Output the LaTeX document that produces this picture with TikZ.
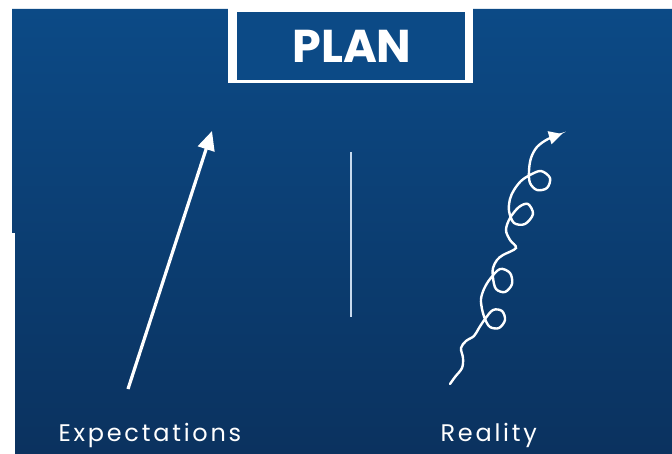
\documentclass[tikz,border=0pt]{standalone}
\usepackage{fontspec}
\setmainfont{Poppins}
\usetikzlibrary{arrows.meta}

\definecolor{bgtop}{RGB}{12,74,134}
\definecolor{bgbot}{RGB}{11,50,95}
\definecolor{divline}{RGB}{200,218,238}

\begin{document}
\begin{tikzpicture}[x=1pt,y=-1pt,
    arr/.style={white,line width=3.2pt,-{Triangle[length=19pt,width=17pt]}},
    curl/.style={white,line width=2.4pt,line cap=round,-{Triangle[length=13pt,width=13pt]}},
    lbl/.style={text=white,font=\fontsize{24}{28}\selectfont\addfontfeatures{LetterSpace=11.5},anchor=base west}]
    \useasboundingbox (0,0) rectangle (672,454);
    \fill[white] (0,0) rectangle (672,454);
    \shade[top color=bgtop,bottom color=bgbot] (12,9) -- (672,9) -- (672,454) -- (15,454) -- (15,233) -- (12,233) -- cycle;

    % title box
    \fill[white] (228,0) rectangle (473,83);
    \fill[bgtop] (237,12) rectangle (465,80);
    \node[text=white,font=\fontsize{46}{50}\selectfont\bfseries] (plan) at (352,46) {PLAN};

    % straight arrow
    \coordinate (e0) at (128,389);
    \coordinate (e1) at (212,131);
    \draw[arr] (e0) -- (e1);

    % divider
    \coordinate (d0) at (351,152);
    \coordinate (d1) at (351,317);
    \draw[divline,line width=1.2pt] (d0) -- (d1);

    % curly arrow
    \draw[curl] plot[smooth,tension=0.55] coordinates {(450,384) (455,377) (462,368) (463,358) (461,348) (466,341) (474,336) (479,328) (485,319) (493,310) (502,311) (505,320) (499,328) (490,327) (485,319) (482,309) (481,299) (484,289) (490,279) (500,269) (510,273) (512,284) (505,292) (496,289) (493,278) (493,268) (497,260) (503,255) (516,248) (510,240) (506,230) (510,218) (519,207) (528,204) (533,214) (525,224) (514,223) (509,211) (510,199) (514,190) (521,181) (530,175) (541,171) (550,178) (547,188) (537,190) (530,183) (529,171) (531,158) (537,147) (548,139) (562,134)};

    \node[lbl] (expect) at (55,441) {Expectations};
    \node[lbl] (reality) at (437,441) {Reality};
\end{tikzpicture}
\end{document}
